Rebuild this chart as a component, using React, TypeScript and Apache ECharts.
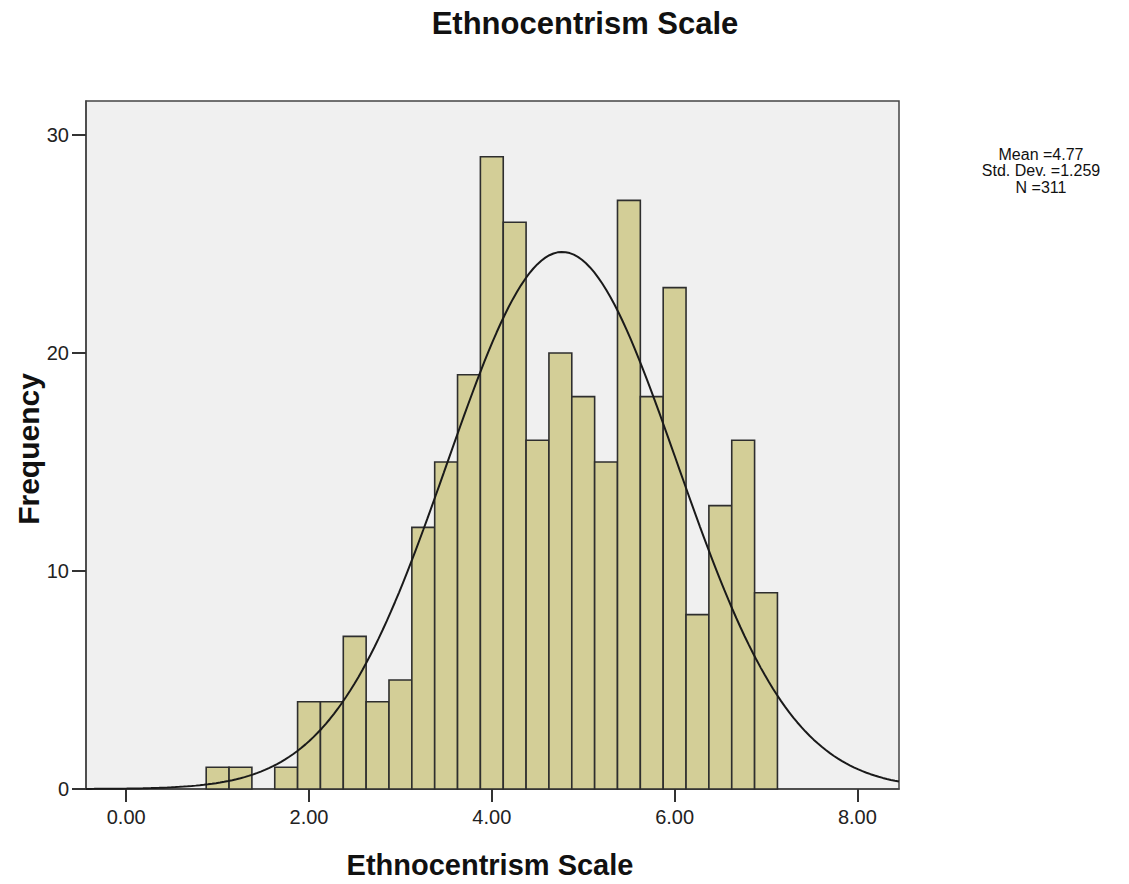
import React, { useEffect, useRef } from "react";
import * as echarts from "echarts";

// Histogram bins (lower edges) and frequencies
const binStarts = [0.875, 1.125, 1.375, 1.625, 1.875, 2.125, 2.375, 2.625, 2.875, 3.125, 3.375, 3.625, 3.875, 4.125, 4.375, 4.625, 4.875, 5.125, 5.375, 5.625, 5.875, 6.125, 6.375, 6.625, 6.875];
const counts = [1, 1, 0, 1, 4, 4, 7, 4, 5, 12, 15, 19, 29, 26, 16, 20, 18, 15, 27, 18, 23, 8, 13, 16, 9];
const binWidth = 0.25;

// Summary statistics shown on the chart
const mean = 4.77;
const stdDev = 1.259;
const n = 311;
const statLines = [`Mean =${mean}`, `Std. Dev. =${stdDev}`, `N =${n}`];

const xTicks = [0, 2, 4, 6, 8];
const yTicks = [0, 10, 20, 30];

const xMin = -0.44;
const xMax = 8.455;
const yMax = 31.56;

// fitted normal curve (from mean / std dev / N shown on the chart)
const curveSteps = 200;
const curve: number[][] = [];
for (let i = 0; i <= curveSteps; i++) {
  const x = xMin + ((xMax - xMin) * i) / curveSteps;
  const z = (x - mean) / stdDev;
  const y = ((n * binWidth) / (stdDev * Math.sqrt(2 * Math.PI))) * Math.exp(-0.5 * z * z);
  curve.push([x, y]);
}

export default function App() {
  const ref = useRef<HTMLDivElement>(null);
  useEffect(() => {
    if (!ref.current) return;
    const chart = echarts.init(ref.current, null, { renderer: "svg" });
    const font = "Arial, 'Liberation Sans', sans-serif";
    chart.setOption({
      animation: false,
      backgroundColor: "#ffffff",
      grid: {
        left: 86,
        top: 101,
        right: 230,
        bottom: 95,
        show: true,
        backgroundColor: "#f0f0f0",
        borderColor: "#444444",
        borderWidth: 1.5,
      },
      xAxis: {
        type: "value",
        min: xMin,
        max: xMax,
        splitLine: { show: false },
        axisLine: { show: true, onZero: false, lineStyle: { color: "#444444", width: 1.5 } },
        axisTick: { show: true, customValues: xTicks, length: 13, lineStyle: { color: "#333333", width: 2 } },
        axisLabel: {
          customValues: xTicks,
          formatter: (v: number) => v.toFixed(2),
          color: "#222222",
          fontSize: 20,
          fontFamily: font,
          margin: 18,
        },
      },
      yAxis: {
        type: "value",
        min: 0,
        max: yMax,
        splitLine: { show: false },
        axisLine: { show: true, onZero: false, lineStyle: { color: "#444444", width: 1.5 } },
        axisTick: { show: true, customValues: yTicks, length: 14, lineStyle: { color: "#333333", width: 2 } },
        axisLabel: {
          customValues: yTicks,
          color: "#222222",
          fontSize: 20,
          fontFamily: font,
          margin: 17,
        },
      },
      series: [
        {
          type: "custom",
          data: binStarts.map((s, i) => [s, s + binWidth, counts[i]]),
          encode: { x: [0, 1], y: 2 },
          renderItem: (params: any, api: any) => {
            const lo = api.value(0);
            const hi = api.value(1);
            const c = api.value(2);
            if (!c) return null;
            const p1 = api.coord([lo, c]);
            const p2 = api.coord([hi, 0]);
            return {
              type: "rect",
              shape: { x: p1[0], y: p1[1], width: p2[0] - p1[0], height: p2[1] - p1[1] },
              style: { fill: "#d3ce97", stroke: "#2e2e2e", lineWidth: 1.6 },
            };
          },
        },
        {
          type: "line",
          data: curve,
          showSymbol: false,
          smooth: false,
          lineStyle: { color: "#1a1a1a", width: 2 },
          z: 5,
        },
      ],
      graphic: [
        {
          type: "text",
          x: 585,
          y: 23,
          style: {
            text: "Ethnocentrism Scale",
            font: `bold 31px ${font}`,
            fill: "#111111",
            align: "center",
            verticalAlign: "middle",
          },
        },
        {
          type: "text",
          x: 490,
          y: 865,
          style: {
            text: "Ethnocentrism Scale",
            font: `bold 29px ${font}`,
            fill: "#111111",
            align: "center",
            verticalAlign: "middle",
          },
        },
        {
          type: "text",
          x: 28,
          y: 449,
          rotation: Math.PI / 2,
          style: {
            text: "Frequency",
            font: `bold 30px ${font}`,
            fill: "#111111",
            align: "center",
            verticalAlign: "middle",
          },
        },
        ...statLines.map((t, i) => ({
          type: "text",
          x: 1041,
          y: 154 + i * 16.8,
          style: {
            text: t,
            font: `16px ${font}`,
            fill: "#111111",
            align: "center",
            verticalAlign: "middle",
          },
        })),
      ],
    });
    return () => chart.dispose();
  }, []);
  return <div ref={ref} style={{ width: 1129, height: 884, margin: -8 }} />;
}
